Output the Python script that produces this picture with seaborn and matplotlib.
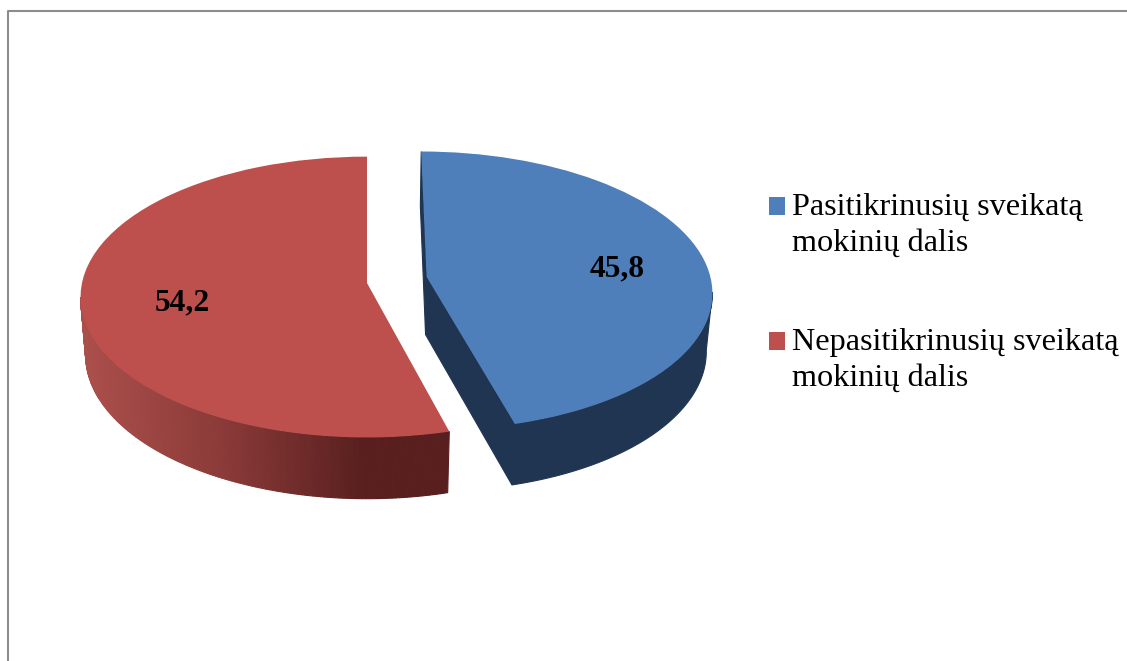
import numpy as np
import seaborn as sns
import matplotlib
matplotlib.use('Agg')
import matplotlib.pyplot as plt
from matplotlib.transforms import Transform

# Chart data
categories = ['Pasitikrinusių sveikatą\nmokinių dalis', 'Nepasitikrinusių sveikatą\nmokinių dalis']
values = [45.8, 54.2]
explode = [0.212, 0.0]
top_colors = ['#4E7FBB', '#BD4F4C']

# Fake 3D view of the pie, in pixels
VX, VY = 367.0, 283.0
RX, RY = 285.0, 139.0
DEPTH = 59.0
K_Y, K_Z = 0.10, 0.018


def project(x, y, z=0.0):
    w = 1 + K_Y * y + K_Z * z
    return VX + RX * x / w, VY + (-RY * y + DEPTH * z) / w


class TiltTransform(Transform):
    input_dims = output_dims = 2
    is_affine = False

    def transform_non_affine(self, xy):
        xy = np.asarray(xy, dtype=float)
        return np.column_stack(project(xy[:, 0], xy[:, 1]))


def draw_strip(ax, xs, ys, color):
    # quad from z=0 to z=1 between points of the outline
    x0, y0 = project(xs, ys, 0.0)
    x1, y1 = project(xs, ys, 1.0)
    ax.fill(np.r_[x0, x1[::-1]], np.r_[y0, y1[::-1]], color=color, lw=0.8, zorder=1)


sns.set_theme(style='white')
plt.rcParams['font.family'] = ['Liberation Serif', 'DejaVu Serif']

fig = plt.figure(figsize=(11.27, 6.61), dpi=100)
ax = fig.add_axes([0, 0, 1, 1])

wedges, _ = ax.pie(values, colors=top_colors, startangle=90, counterclock=False,
                   explode=explode, radius=1.0, wedgeprops={'zorder': 3, 'lw': 0})

# blue slice sits a little further back
wedges[0].set_center((wedges[0].center[0], wedges[0].center[1] + 0.017))

tilt = TiltTransform()
for w in wedges:
    w.set_transform(tilt + ax.transData)

ax.set_aspect('auto')
ax.set_xlim(0, 1127)
ax.set_ylim(661, 0)
ax.set_axis_off()

# Side walls follow the wedge angles
red_side = sns.blend_palette(['#AB4F4B', '#8A3A38', '#581F1E'], as_cmap=True)
blue_side = sns.blend_palette(['#1F3552', '#1F3552'], as_cmap=True)
side_maps = [blue_side, red_side]
side_strips = [1, 140]
cut_faces = [True, False]

for w, cmap, n, cut in zip(wedges, side_maps, side_strips, cut_faces):
    cx, cy = w.center
    t1, t2 = np.radians(w.theta1), np.radians(w.theta2)
    angles = np.linspace(t1, t2, 280)
    # only the front of the rim can be seen
    angles = angles[np.sin(angles) < -0.1]
    px = cx + np.cos(angles)
    py = cy + np.sin(angles)
    left, _ = project(px.min(), cy)
    right, _ = project(cx + np.cos(angles[np.argmin(py)]), py.min())
    edges = np.linspace(0, len(angles) - 1, n + 1).astype(int)
    for i, j in zip(edges[:-1], edges[1:]):
        sx = px[i:j + 1]
        sy = py[i:j + 1]
        xm, _ = project(sx.mean(), sy.mean())
        t = np.clip((xm - left) / max(right - left, 1), 0, 1)
        draw_strip(ax, sx, sy, cmap(t))
    # flat cut faces, only the blue slice shows them
    if cut:
        for a in (t1, t2):
            draw_strip(ax, np.array([cx, cx + np.cos(a)]), np.array([cy, cy + np.sin(a)]), cmap(0.0))

# Value labels
for v, (lx, ly) in zip(values, [(617, 269), (182, 303)]):
    ax.text(lx, ly, f'{v}'.replace('.', ','), ha='center', va='center',
            fontsize=22.7, fontweight='bold', color='black', zorder=5)

# Legend
leg = ax.legend(wedges, categories, loc='upper left', bbox_to_anchor=(769, 193),
                bbox_transform=ax.transData, frameon=False, fontsize=23.2,
                handlelength=0.497, handleheight=0.497, handletextpad=0.217,
                labelspacing=2.17, borderpad=0, borderaxespad=0)
for t in leg.get_texts():
    t.set_linespacing(1.32)
    t.set_color('black')
for h in leg.legend_handles:
    h.set_y(h.get_y() + 13.8)

# Outer chart frame, runs off the right and bottom of the crop
ax.plot([8, 8, 1127], [661, 10.5, 10.5], color='#8C8C8C', lw=1.5, zorder=6, clip_on=False)

fig.savefig('out.png', dpi=100, facecolor='white')
